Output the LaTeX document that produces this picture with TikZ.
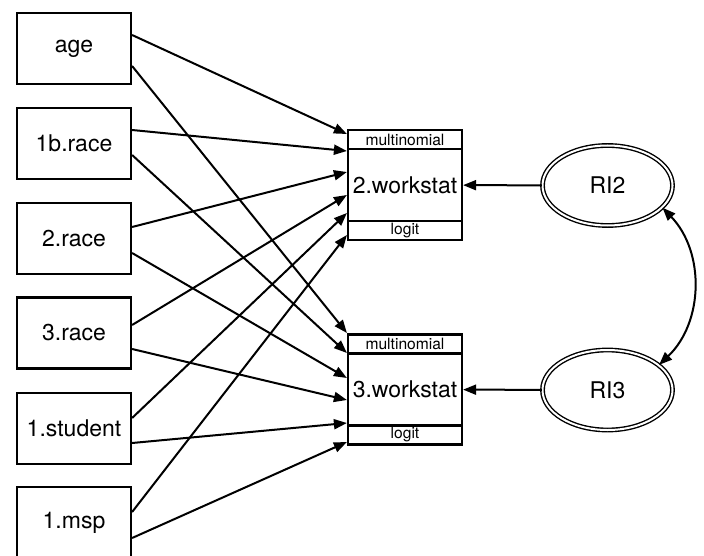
\documentclass[tikz,border=0pt]{standalone}
\usepackage{fontspec}
\setmainfont{TeX Gyre Heros}
\usetikzlibrary{arrows.meta,positioning,calc,shapes.geometric}

\begin{document}
\begin{tikzpicture}[x=0.5pt, y=-0.5pt, >={Triangle[length=6.5pt,width=5pt]},
    varbox/.style={draw, line width=1.1pt, minimum width=57pt, minimum height=35.5pt,
      inner sep=0pt, font=\fontsize{11.5}{13}\selectfont},
    wsbox/.style={draw, line width=1.1pt, minimum width=57pt, minimum height=36pt,
      inner sep=0pt, font=\fontsize{11.5}{13}\selectfont},
    wsbar/.style={draw, line width=1.1pt, minimum width=57pt, minimum height=9.5pt,
      inner sep=0pt, outer sep=0pt, font=\fontsize{7.8}{8}\selectfont},
    latent/.style={ellipse, draw, double, double distance=1pt, line width=0.7pt,
      minimum width=65pt, minimum height=40pt, inner sep=0pt,
      font=\fontsize{11.5}{13}\selectfont},
    conn/.style={->, line width=1pt}]

    % Moldura (pixels da figura de referencia)
    \useasboundingbox (0,0) rectangle (704,555);

    % Variaveis observadas
    \node[varbox] (age)     at (74,48.5)  {age};
    \node[varbox] (race1b)  at (74,143.5) {1b.race};
    \node[varbox] (race2)   at (74,238.5) {2.race};
    \node[varbox] (race3)   at (74,333)   {3.race};
    \node[varbox] (student) at (74,428.5) {1.student};
    \node[varbox] (msp)     at (74,522.5) {1.msp};

    % Respostas multinomiais
    \node[wsbox] (ws2) at (405,185)   {2.workstat};
    \node[wsbar, above=-0.55pt of ws2] (ws2fam)  {multinomial};
    \node[wsbar, below=-0.55pt of ws2] (ws2link) {logit};

    \node[wsbox] (ws3) at (405,389.5) {3.workstat};
    \node[wsbar, above=-0.55pt of ws3] (ws3fam)  {multinomial};
    \node[wsbar, below=-0.55pt of ws3] (ws3link) {logit};

    % Interceptos aleatorios
    \node[latent] (RI2) at (607.5,185.5) {RI2};
    \node[latent] (RI3) at (607.5,390)   {RI3};

    % Caminhos: origem (desvio na borda) -> 2.workstat e 3.workstat
    \foreach \src/\a/\b/\ta/\tb in {age/-13.5/17.5/-51/-56.5,
        race1b/-13.5/11.5/-34/-36.5, race2/-11.5/14.5/-13/-11.5,
        race3/-8/16/10/10.5, student/-10.5/14.5/28/33.5,
        msp/-10.5/15.5/50/52.5} {
      \draw[conn] ($(\src.east)+(0,\a)$) -- ($(ws2.west)+(0,\ta)$);
      \draw[conn] ($(\src.east)+(0,\b)$) -- ($(ws3.west)+(0,\tb)$);
    }

    \draw[conn] (RI2) -- (ws2);
    \draw[conn] (RI3) -- (ws3);

    % Covariancia entre os interceptos
    \draw[<->, line width=1pt] (RI2.-22) to[bend left=45] (RI3.26);

\end{tikzpicture}
\end{document}
